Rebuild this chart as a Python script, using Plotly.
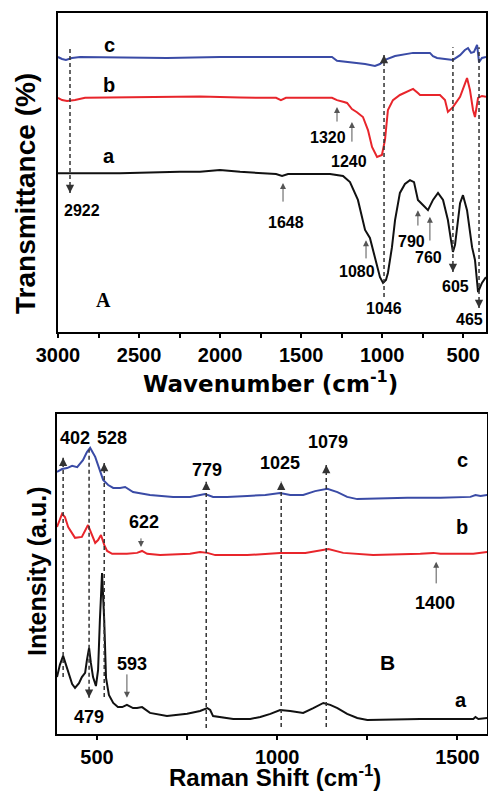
import plotly.graph_objects as go

FONT = "Liberation Sans, Arial, sans-serif"

# ---------------- Panel A: FTIR (wavenumber, cm-1 ; transmittance, a.u.) ----------------
ir_c_x = [3000, 2975, 2951, 2914, 2864, 2433, 2328, 2001, 1631, 1310, 1279, 1199, 1106, 1045, 1014, 983,
          921, 810, 706, 687, 662, 613, 564, 520, 490, 471, 452, 434, 415, 403, 385, 360]
ir_c_y = [86.2, 85.6, 85.3, 85.9, 86.2, 86.1, 85.9, 86.2, 86.2, 86.2, 85.0, 84.6, 84.0, 83.4, 84.0, 85.3,
          86.5, 87.5, 87.5, 86.5, 85.9, 85.6, 85.3, 86.8, 88.4, 89.0, 87.5, 87.8, 90.0, 84.6, 85.9, 86.2]

ir_b_x = [3000, 2975, 2944, 2895, 2833, 2433, 2124, 1877, 1655, 1625, 1594, 1310, 1279, 1236, 1217, 1187,
          1156, 1119, 1088, 1063, 1032, 1002, 983, 965, 934, 891, 847, 810, 780, 767, 644, 613, 595, 564,
          520, 496, 477, 459, 440, 428, 409, 385, 360]
ir_b_y = [73.4, 72.7, 72.4, 72.7, 73.4, 73.7, 73.8, 73.5, 73.4, 72.7, 73.4, 73.4, 72.7, 72.1, 71.8, 69.9,
          68.9, 67.4, 63.3, 58.0, 54.9, 55.5, 60.2, 69.6, 72.7, 74.3, 75.2, 76.2, 74.9, 74.3, 74.3, 72.7,
          69.0, 70.5, 73.7, 77.4, 79.6, 75.9, 69.6, 67.4, 73.4, 74.0, 73.7]

ir_a_x = [3000, 2618, 2248, 2124, 2001, 1877, 1655, 1618, 1581, 1322, 1242, 1199, 1150, 1106, 1076, 1045,
          1014, 995, 977, 965, 940, 921, 891, 860, 829, 804, 780, 749, 718, 687, 656, 625, 595, 576, 564,
          551, 539, 520, 502, 477, 446, 428, 409, 385, 360]
ir_a_y = [49.8, 49.8, 50.2, 50.2, 50.8, 50.2, 49.5, 48.9, 49.5, 49.5, 48.9, 47.0, 41.4, 32.0, 29.5, 23.5,
          17.2, 15.4, 16.3, 18.5, 26.6, 35.1, 43.6, 46.4, 47.6, 47.0, 41.4, 39.8, 38.2, 41.4, 43.6, 41.4,
          35.1, 28.8, 25.1, 27.3, 32.0, 40.4, 42.9, 38.2, 26.6, 22.6, 12.5, 15.4, 17.2]

# dashed guide lines (x, top, bottom, arrow end)
ir_dash_x = [2926, 989, 564, 403]
ir_dash_top = [89.3, 86.8, 89.3, 89.3]
ir_dash_bot = [43.6, 11.0, 18.8, 7.5]
ir_dash_tip = ["bottom", "top", "bottom", "bottom"]

# solid gray arrows (x, tip, tail)
ir_arrow_x = [1279, 1187, 1612, 1100, 780, 706]
ir_arrow_tip = [70.5, 65.8, 46.7, 28.8, 38.2, 36.1]
ir_arrow_tail = [65.5, 59.2, 40.4, 22.6, 32.9, 28.2]

ir_labels = ["2922", "1046", "605", "465", "1320", "1240", "1648", "1080", "790", "760"]
ir_label_x = [2849, 989, 551, 459, 1335, 1205, 1594, 1156, 817, 712]
ir_label_y = [38.2, 7.5, 14.4, 3.8, 61.1, 53.3, 34.2, 19.1, 28.5, 23.2]

ir_curve_names = ["c", "b", "a"]
ir_curve_label_x = [2685, 2685, 2685]
ir_curve_label_y = [90.0, 77.4, 55.2]

# ---------------- Panel B: Raman (shift, cm-1 ; intensity, a.u.) ----------------
ra_c_x = [389, 403, 417, 431, 445, 461, 472, 481, 495, 508, 517, 531, 545, 564, 578, 600, 647, 711, 758,
          786, 800, 822, 861, 917, 967, 1008, 1036, 1072, 1105, 1139, 1167, 1194, 1222, 1361, 1453, 1536,
          1550, 1564, 1583]
ra_c_y = [81.9, 82.8, 83.1, 83.8, 83.4, 85.6, 88.1, 89.4, 86.6, 81.9, 79.4, 77.8, 76.9, 76.9, 77.2, 75.6,
          74.7, 74.1, 74.1, 74.7, 75.0, 74.1, 74.1, 74.4, 74.7, 75.3, 74.7, 74.7, 75.9, 76.6, 75.6, 74.1,
          73.4, 73.8, 73.8, 74.1, 74.7, 74.4, 74.7]

ra_b_x = [389, 403, 411, 420, 439, 458, 475, 483, 495, 503, 511, 520, 528, 542, 583, 611, 625, 639, 675,
          758, 786, 806, 828, 917, 1008, 1078, 1114, 1142, 1183, 1266, 1397, 1433, 1453, 1544, 1583]
ra_b_y = [64.7, 68.8, 67.8, 64.7, 61.3, 61.6, 65.3, 63.1, 59.7, 60.6, 62.2, 59.1, 57.2, 56.3, 56.3, 56.6,
          57.2, 56.3, 55.9, 56.3, 56.9, 56.6, 55.9, 55.9, 56.6, 56.6, 57.2, 57.8, 56.6, 55.9, 56.3, 56.6,
          56.3, 56.3, 56.9]

ra_a_x = [389, 397, 406, 414, 422, 431, 439, 450, 458, 467, 472, 478, 483, 489, 497, 503, 508, 514, 520,
          525, 533, 545, 558, 570, 583, 600, 611, 625, 647, 694, 750, 786, 806, 814, 822, 878, 925, 953,
          981, 1008, 1036, 1072, 1100, 1128, 1147, 1167, 1194, 1222, 1250, 1397, 1544, 1550, 1558, 1583]
ra_a_y = [17.8, 21.6, 24.4, 21.6, 18.1, 15.6, 14.4, 15.9, 17.8, 19.1, 23.1, 26.9, 22.2, 17.8, 15.0, 20.0,
          35.6, 50.3, 35.6, 17.5, 12.2, 9.7, 8.4, 8.4, 9.1, 8.1, 8.1, 8.4, 6.6, 5.6, 6.3, 7.2, 8.1, 7.5,
          5.6, 4.7, 4.7, 5.3, 6.3, 7.5, 7.2, 6.6, 8.1, 9.7, 9.1, 8.1, 6.3, 5.0, 4.4, 4.7, 4.7, 5.3, 4.7, 5.0]

ra_dash_x = [406, 478, 520, 803, 1011, 1136]
ra_dash_top = [86.3, 88.8, 84.7, 78.8, 78.8, 84.1]
ra_dash_bot = [17.8, 11.3, 11.6, 1.9, 2.2, 2.2]
ra_dash_tip = ["top", "bottom", "top", "top", "top", "top"]

ra_arrow_x = [622, 583, 1441]
ra_arrow_tip = [58.4, 11.3, 53.8]
ra_arrow_tail = [61.6, 19.1, 46.6]

ra_labels = ["402", "528", "779", "1025", "1079", "622", "593", "479", "1400"]
ra_label_x = [439, 542, 806, 1008, 1140, 631, 597, 478, 1439]
ra_label_y = [92.5, 92.5, 82.5, 84.7, 91.3, 66.3, 21.9, 5.3, 40.9]

ra_curve_names = ["c", "b", "a"]
ra_curve_label_x = [1514, 1514, 1511]
ra_curve_label_y = [85.6, 64.7, 10.6]

COLORS = {"a": "#111111", "b": "#e8252b", "c": "#3a4ba6"}

fig = go.Figure()

# panel A curves
for name, xs, ys in [("a", ir_a_x, ir_a_y), ("b", ir_b_x, ir_b_y), ("c", ir_c_x, ir_c_y)]:
    fig.add_trace(go.Scatter(x=xs, y=ys, mode="lines", name=name, showlegend=False,
                             line=dict(color=COLORS[name], width=2), xaxis="x", yaxis="y"))
# panel B curves
for name, xs, ys in [("a", ra_a_x, ra_a_y), ("b", ra_b_x, ra_b_y), ("c", ra_c_x, ra_c_y)]:
    fig.add_trace(go.Scatter(x=xs, y=ys, mode="lines", name=name, showlegend=False,
                             line=dict(color=COLORS[name], width=2), xaxis="x2", yaxis="y2"))

ann = []
shapes = []
bold = dict(family=FONT, color="black", weight="bold")


def add_panel_marks(xr, yr, dash_x, dash_top, dash_bot, dash_tip, arr_x, arr_tip, arr_tail,
                    labels, lab_x, lab_y, lab_size, cnames, cx, cy):
    for x, t, b, tip in zip(dash_x, dash_top, dash_bot, dash_tip):
        shapes.append(dict(type="line", xref=xr, yref=yr, x0=x, x1=x, y0=b, y1=t,
                           line=dict(color="#333333", width=1.5, dash="4px,3px")))
        ty = t if tip == "top" else b
        ann.append(dict(x=x, y=ty, xref=xr, yref=yr, text="", showarrow=True, ax=0,
                        ay=9 if tip == "top" else -9, arrowhead=2, arrowsize=1.1,
                        arrowwidth=1.5, arrowcolor="#333333", standoff=0))
    for x, t, tl in zip(arr_x, arr_tip, arr_tail):
        ann.append(dict(x=x, y=t, xref=xr, yref=yr, ax=x, ay=tl, axref=xr, ayref=yr, text="",
                        showarrow=True, arrowhead=2, arrowsize=1.2, arrowwidth=1,
                        arrowcolor="#555555", standoff=0))
    for s, x, y in zip(labels, lab_x, lab_y):
        ann.append(dict(x=x, y=y, xref=xr, yref=yr, text=s, showarrow=False,
                        xanchor="center", yanchor="middle", font=dict(bold, size=lab_size)))
    for s, x, y in zip(cnames, cx, cy):
        ann.append(dict(x=x, y=y, xref=xr, yref=yr, text=s, showarrow=False,
                        xanchor="center", yanchor="middle", font=dict(bold, size=20)))


add_panel_marks("x", "y", ir_dash_x, ir_dash_top, ir_dash_bot, ir_dash_tip, ir_arrow_x, ir_arrow_tip,
                ir_arrow_tail, ir_labels, ir_label_x, ir_label_y, 16, ir_curve_names,
                ir_curve_label_x, ir_curve_label_y)
add_panel_marks("x2", "y2", ra_dash_x, ra_dash_top, ra_dash_bot, ra_dash_tip, ra_arrow_x, ra_arrow_tip,
                ra_arrow_tail, ra_labels, ra_label_x, ra_label_y, 18, ra_curve_names,
                ra_curve_label_x, ra_curve_label_y)

# panel letters
ann.append(dict(x=2722, y=10.0, xref="x", yref="y", text="A", showarrow=False,
                font=dict(family="Liberation Serif, Times New Roman, serif", size=20, color="black",
                          weight="bold")))
ann.append(dict(x=1306, y=22.5, xref="x2", yref="y2", text="B", showarrow=False,
                font=dict(bold, size=21)))

# axis titles
titles = [
    ("Transmittance (%)", 25, 194, -90, 28, FONT),
    ("Wavenumber (cm<sup>-1</sup>)", 270, 382, 0, 23, "DejaVu Sans, sans-serif"),
    ("Intensity (a.u.)", 37, 572, -90, 25, FONT),
    ("Raman Shift (cm<sup>-1</sup>)", 275, 776, 0, 24, FONT),
]
for text, px, py, ang, size, fam in titles:
    ann.append(dict(x=px / 488, y=1 - py / 791, xref="paper", yref="paper", text=text,
                    textangle=ang, xanchor="center", yanchor="middle", showarrow=False,
                    font=dict(bold, size=size, family=fam)))

axis_common = dict(showline=True, linecolor="black", linewidth=2, mirror=True, showgrid=False,
                   zeroline=False, automargin=False)
xtick = dict(ticks="outside", ticklen=4, tickwidth=2, tickcolor="black", ticklabelstandoff=0,
             tickfont=dict(bold, size=20),
             minor=dict(ticks="outside", ticklen=4, tickwidth=2, tickcolor="black"))

fig.update_layout(
    width=488, height=791,
    margin=dict(l=0, r=0, t=0, b=0, autoexpand=False),
    paper_bgcolor="white", plot_bgcolor="white",
    showlegend=False,
    xaxis=dict(axis_common, **xtick, domain=[58 / 488, 486 / 488], range=[3000, 360],
               tickvals=[3000, 2500, 2000, 1500, 1000, 500], anchor="y",
               minor_tickvals=[2750, 2250, 1750, 1250, 750]),
    yaxis=dict(axis_common, domain=[1 - 332 / 791, 1 - 13 / 791], range=[0, 100],
               showticklabels=False, ticks="", anchor="x"),
    xaxis2=dict(axis_common, **xtick, domain=[57 / 488, 487 / 488], range=[389, 1582],
                tickvals=[500, 1000, 1500], anchor="y2", minor_tickvals=[750, 1250]),
    yaxis2=dict(axis_common, domain=[1 - 734 / 791, 1 - 414 / 791], range=[0, 100],
                showticklabels=False, ticks="", anchor="x2"),
    annotations=ann,
    shapes=shapes,
)

fig.write_html("out.html", config={"displayModeBar": False},
               post_script="document.body.style.margin='0';")
